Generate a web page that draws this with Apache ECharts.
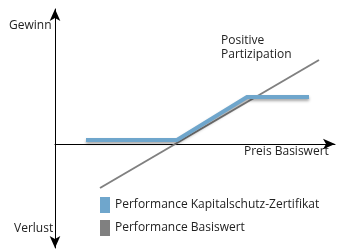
<!DOCTYPE html>
<html><head><meta charset="utf-8">
<script src="https://cdn.jsdelivr.net/npm/echarts@6/dist/echarts.min.js"></script>
<style>html,body{margin:0;padding:0;background:#fff}#c{width:364px;height:251px}</style>
</head><body><div id="c"></div>
<script>
var seriesNames = ['Performance Kapitalschutz-Zertifikat', 'Performance Basiswert'];
var zertifikat = [[15.5, 2], [61, 2], [96, 23.5], [127, 23.5]];
var basiswert = [[22.5, -22], [132, 42]];
var axisLabels = {gewinn: 'Gewinn', verlust: 'Verlust', preis: 'Preis Basiswert', partizipation: 'Positive\nPartizipation'};

var chart = echarts.init(document.getElementById('c'), null, {renderer: 'canvas'});
var font = '"Open Sans", "Noto Sans", sans-serif';
chart.setOption({
  animation: false,
  grid: {left: 55, right: 29, top: 9, bottom: 3},
  xAxis: {
    type: 'value', min: 0, max: 140,
    axisLine: {onZero: true, lineStyle: {color: '#000', width: 1}, symbol: ['none', 'arrow'], symbolSize: [8, 12]},
    axisTick: {show: false}, axisLabel: {show: false}, splitLine: {show: false}
  },
  yAxis: {
    type: 'value', min: -52, max: 67.5,
    axisLine: {show: true, onZero: false, lineStyle: {color: '#000', width: 1}, symbol: ['arrow', 'arrow'], symbolSize: [8, 12]},
    axisTick: {show: false}, axisLabel: {show: false}, splitLine: {show: false}
  },
  legend: {
    orient: 'vertical', left: 100, top: 197, itemGap: 7, padding: 0,
    itemWidth: 10, itemHeight: 16,
    textStyle: {fontFamily: font, fontSize: 12, color: '#222'},
    data: [
      {name: seriesNames[0], icon: 'rect', itemStyle: {color: '#6fa6cc', shadowBlur: 0}},
      {name: seriesNames[1], icon: 'rect', itemStyle: {color: '#808080', shadowBlur: 0}}
    ]
  },
  graphic: [
    {type: 'text', left: 9, top: 20, style: {text: axisLabels.gewinn, font: '12px ' + font, fill: '#222'}},
    {type: 'text', left: 14, top: 223, style: {text: axisLabels.verlust, font: '12px ' + font, fill: '#222'}},
    {type: 'text', left: 244, top: 146, style: {text: axisLabels.preis, font: '12px ' + font, fill: '#222'}},
    {type: 'text', left: 221, top: 34, style: {text: axisLabels.partizipation, font: '12px ' + font, fill: '#222', lineHeight: 14}}
  ],
  series: [
    {
      name: seriesNames[1], type: 'line', data: basiswert, symbol: 'none', z: 2,
      lineStyle: {color: '#808080', width: 2}, itemStyle: {color: '#808080'}
    },
    {
      name: seriesNames[0], type: 'line', data: zertifikat, symbol: 'none', z: 3,
      lineStyle: {color: '#6fa6cc', width: 4, cap: 'butt', join: 'miter', shadowColor: 'rgba(0,0,0,0.35)', shadowBlur: 3, shadowOffsetY: 2},
      itemStyle: {color: '#6fa6cc'}
    }
  ]
});
</script></body></html>
